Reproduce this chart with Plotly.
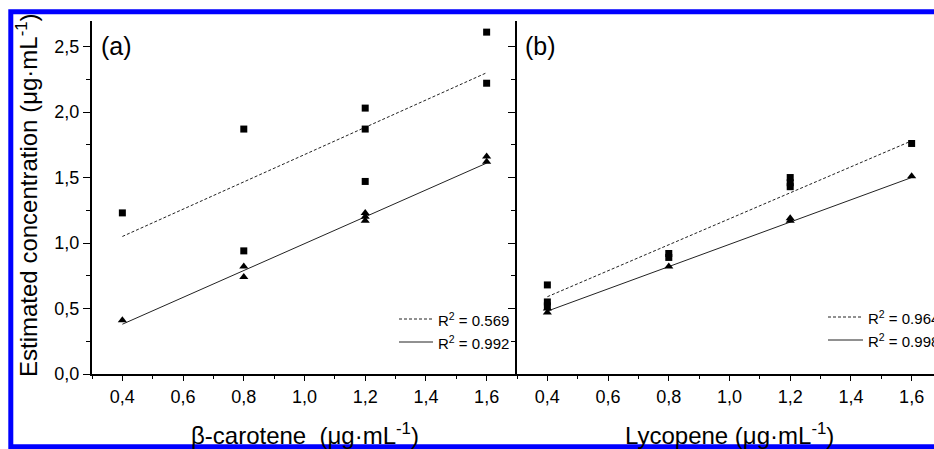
import plotly.graph_objects as go

# ---------------- data ----------------
beta_x_sq = [0.4, 0.8, 0.8, 1.2, 1.2, 1.2, 1.6, 1.6]
beta_y_sq = [1.23, 1.87, 0.94, 2.03, 1.87, 1.47, 2.61, 2.22]
beta_x_tri = [0.4, 0.8, 0.8, 1.2, 1.2, 1.2, 1.6, 1.6]
beta_y_tri = [0.41, 0.82, 0.74, 1.23, 1.20, 1.17, 1.66, 1.62]

lyco_x_sq = [0.4, 0.4, 0.4, 0.8, 0.8, 1.2, 1.2, 1.2, 1.6]
lyco_y_sq = [0.68, 0.55, 0.52, 0.92, 0.89, 1.50, 1.46, 1.43, 1.76]
lyco_x_tri = [0.4, 0.4, 0.8, 1.2, 1.2, 1.6]
lyco_y_tri = [0.50, 0.47, 0.82, 1.19, 1.17, 1.51]

fit_x = [0.4, 1.6]
beta_fit_sq = [1.05, 2.30]
beta_fit_tri = [0.38, 1.61]
lyco_fit_sq = [0.59, 1.78]
lyco_fit_tri = [0.48, 1.50]

r2_beta = ["0.569", "0.992"]
r2_lyco = ["0.964", "0.998"]

x_ticks = [0.4, 0.6, 0.8, 1.0, 1.2, 1.4, 1.6]
y_ticks = [0.0, 0.5, 1.0, 1.5, 2.0, 2.5]

# ---------------- geometry helpers (pixels -> paper) ----------------
W, H = 934, 449
def px(v):
    return v / W
def py(v):
    return 1 - v / H

FONT = "Arial, Liberation Sans, sans-serif"
X_A = [px(92), px(517)]
X_B = [px(517), 1.0]
Y_D = [py(374), py(21)]
XR_A = [0.3, 1.7]
XR_B = [0.3, 0.3 + (W - 517) * 1.4 / 425]
YR = [0, 2.695]
LW = 2

fig = go.Figure()

def add_panel(xs_sq, ys_sq, xs_tri, ys_tri, f_sq, f_tri, xa, ya):
    fig.add_trace(go.Scatter(x=fit_x, y=f_sq, mode="lines", xaxis=xa, yaxis=ya,
                             line=dict(color="#222", width=1, dash="3px,2px"),
                             showlegend=False, hoverinfo="skip"))
    fig.add_trace(go.Scatter(x=fit_x, y=f_tri, mode="lines", xaxis=xa, yaxis=ya,
                             line=dict(color="#222", width=1),
                             showlegend=False, hoverinfo="skip"))
    fig.add_trace(go.Scatter(x=xs_sq, y=ys_sq, mode="markers", xaxis=xa, yaxis=ya,
                             marker=dict(symbol="square", size=7, color="black"),
                             showlegend=False))
    fig.add_trace(go.Scatter(x=xs_tri, y=ys_tri, mode="markers", xaxis=xa, yaxis=ya,
                             marker=dict(symbol="triangle-up", size=8, color="black"),
                             showlegend=False))

add_panel(beta_x_sq, beta_y_sq, beta_x_tri, beta_y_tri, beta_fit_sq, beta_fit_tri, "x", "y")
add_panel(lyco_x_sq, lyco_y_sq, lyco_x_tri, lyco_y_tri, lyco_fit_sq, lyco_fit_tri, "x2", "y2")

common_x = dict(
    automargin=False,
    tickmode="array", tickvals=x_ticks, tickformat=".1f",
    ticks="outside", ticklen=5, tickwidth=1.2, tickcolor="black",
    showline=True, linewidth=LW, linecolor="black",
    showgrid=False, zeroline=False,
    tickfont=dict(family=FONT, size=18, color="black"),
    minor=dict(dtick=0.1, tick0=0.3, ticks="outside", ticklen=3, tickwidth=1.2,
               tickcolor="black", showgrid=False),
)
top_x = dict(
    automargin=False,
    side="top", ticks="inside", ticklen=5, tickwidth=1.2, tickcolor="black",
    tickmode="array", tickvals=x_ticks, showticklabels=False,
    showline=True, linewidth=LW, linecolor="black",
    showgrid=False, zeroline=False,
    minor=dict(dtick=0.1, tick0=0.3, ticks="inside", ticklen=3, tickwidth=1.2,
               tickcolor="black", showgrid=False),
)
common_y = dict(
    automargin=False,
    domain=Y_D, range=YR,
    tickmode="array", tickvals=y_ticks, tickformat=".1f",
    ticks="outside", ticklen=7, tickwidth=1.2, tickcolor="black",
    showline=True, linewidth=LW, linecolor="black",
    showgrid=False, zeroline=False,
    minor=dict(dtick=0.25, tick0=0, ticks="outside", ticklen=4, tickwidth=1.2,
               tickcolor="black", showgrid=False),
)

fig.update_layout(
    width=W, height=H,
    margin=dict(l=0, r=0, t=0, b=0, pad=0),
    paper_bgcolor="white", plot_bgcolor="white",
    separators=",.",
    font=dict(family=FONT, color="black"),
    xaxis=dict(domain=X_A, range=XR_A, anchor="y", **common_x),
    xaxis2=dict(domain=X_B, range=XR_B, anchor="y2", **common_x),
    xaxis3=dict(overlaying="x", anchor="y", range=XR_A, **top_x),
    xaxis4=dict(overlaying="x2", anchor="y2", range=XR_B, **top_x),
    yaxis=dict(anchor="x", tickfont=dict(family=FONT, size=18, color="black"), **common_y),
    yaxis2=dict(anchor="x2", showticklabels=False, **common_y),
)

ann = []
# axis titles
ann.append(dict(text="Estimated concentration (μg·mL<sup>-1</sup>)", textangle=-90,
                xref="paper", yref="paper", x=px(27), y=py(195), showarrow=False,
                xanchor="center", yanchor="middle", font=dict(family=FONT, size=24)))
ann.append(dict(text="β-carotene  (μg·mL<sup>-1</sup>)", xref="x", yref="paper",
                x=1.0, y=py(434), showarrow=False, xanchor="center", yanchor="middle",
                font=dict(family=FONT, size=24)))
ann.append(dict(text="Lycopene (μg·mL<sup>-1</sup>)", xref="x2", yref="paper",
                x=1.0, y=py(434), showarrow=False, xanchor="center", yanchor="middle",
                font=dict(family=FONT, size=24)))
# panel labels
ann.append(dict(text="(a)", xref="paper", yref="paper", x=px(99), y=py(46),
                showarrow=False, xanchor="left", yanchor="middle", font=dict(family=FONT, size=25)))
ann.append(dict(text="(b)", xref="paper", yref="paper", x=px(523), y=py(46),
                showarrow=False, xanchor="left", yanchor="middle", font=dict(family=FONT, size=25)))

shapes = []
# R² keys
def key(x0, x1, xt, yrows, vals):
    for yy, val, dash in zip(yrows, vals, ["3px,2px", "solid"]):
        shapes.append(dict(type="line", xref="paper", yref="paper",
                           x0=px(x0), x1=px(x1), y0=py(yy), y1=py(yy),
                           line=dict(color="#222", width=1, dash=dash)))
        ann.append(dict(text="R<sup>2</sup> = " + val, xref="paper", yref="paper",
                        x=px(xt), y=py(yy), showarrow=False, xanchor="left",
                        yanchor="middle", font=dict(family=FONT, size=15)))

key(399, 433, 436, [319, 342], r2_beta)
key(828, 863, 866, [317, 340], r2_lyco)

# blue frame (open on the right: the picture is cropped there)
shapes.append(dict(type="path", xref="paper", yref="paper",
                   path=f"M 1.0,{py(11.8)} L {px(10.8)},{py(11.8)} L {px(10.8)},{py(446.8)} L 1.0,{py(446.8)}",
                   line=dict(color="#0000ff", width=5), layer="above"))

fig.update_layout(annotations=ann, shapes=shapes)
fig.write_html("out.html",
               config={"displayModeBar": False},
               post_script="document.body.style.margin='0';document.body.style.overflow='hidden';")
